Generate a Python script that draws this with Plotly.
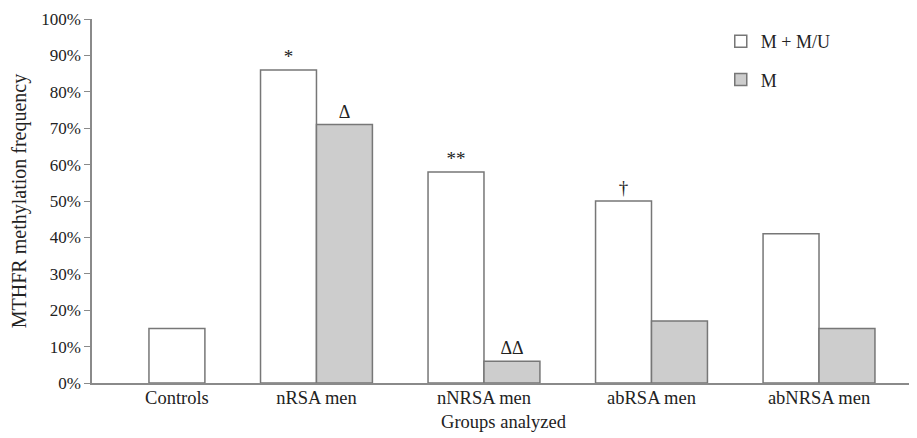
import plotly.graph_objects as go

groups = ["Controls", "nRSA men", "nNRSA men", "abRSA men", "abNRSA men"]
m_mu = [0.15, 0.86, 0.58, 0.50, 0.41]
m_only = [None, 0.71, 0.06, 0.17, 0.15]
sig_mu = ["", "*", "**", "†", ""]
sig_m = ["", "Δ", "ΔΔ", "", ""]
y_ticks = [0, 0.1, 0.2, 0.3, 0.4, 0.5, 0.6, 0.7, 0.8, 0.9, 1.0]

# group centre positions on a numeric axis (Controls has a single centred bar)
xpos = [0.167, 1, 2, 3, 4]
bw = 0.334
off_mu = [-bw / 2] + [-bw] * 4

FONT = "Liberation Serif, Times New Roman, serif"
EDGE = "#777777"
TXT = "#222222"

fig = go.Figure()
fig.add_trace(go.Bar(
    x=xpos, y=m_mu, name="M + M/U", width=bw, offset=off_mu,
    marker=dict(color="white", line=dict(color=EDGE, width=1.5)),
    text=sig_mu, textposition="outside", cliponaxis=False,
    textfont=dict(family=FONT, size=19, color=TXT),
    legendgroup="a",
))
fig.add_trace(go.Bar(
    x=xpos, y=m_only, name="M", width=bw, offset=0,
    marker=dict(color="#cdcdcd", line=dict(color=EDGE, width=1.5)),
    text=sig_m, textposition="outside", cliponaxis=False,
    textfont=dict(family=FONT, size=18, color=TXT),
    legendgroup="b",
))

fig.update_layout(
    width=909, height=430,
    margin=dict(l=84, r=2, t=8, b=55),
    paper_bgcolor="white", plot_bgcolor="white",
    font=dict(family=FONT, size=17, color=TXT),
    barmode="overlay",
    legend=dict(x=0.764, y=0.989, xanchor="left", yanchor="top",
                font=dict(family=FONT, size=18, color=TXT),
                tracegroupgap=12, bgcolor="rgba(0,0,0,0)"),
    xaxis=dict(
        range=[-0.34, 4.573], tickvals=xpos, ticktext=groups,
        showline=True, linecolor="#8a8a8a", linewidth=1.5,
        ticks="", showgrid=False, zeroline=False,
        ticklabelstandoff=-3,
        tickfont=dict(family=FONT, size=18.5, color=TXT),
        title=dict(text="Groups analyzed", font=dict(family=FONT, size=18.5, color=TXT), standoff=8),
    ),
    yaxis=dict(
        range=[0, 1.0], tickvals=y_ticks, tickformat=".0%",
        showline=True, linecolor="#8a8a8a", linewidth=1.5,
        ticks="outside", ticklen=6, tickcolor="#8a8a8a", tickwidth=1.2,
        showgrid=False, zeroline=False, ticklabeloverflow="allow",
        tickfont=dict(family=FONT, size=17, color=TXT),
        title=dict(text="MTHFR methylation frequency", font=dict(family=FONT, size=20, color=TXT), standoff=16),
    ),
)

fig.write_html("out.html")
